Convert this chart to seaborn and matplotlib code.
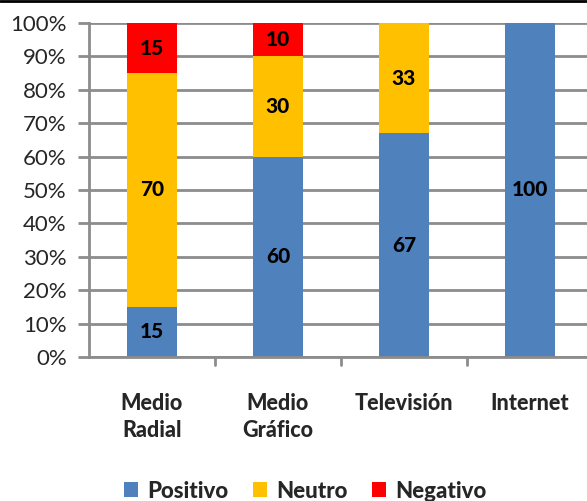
import matplotlib
matplotlib.use("Agg")
import matplotlib.pyplot as plt
import seaborn as sns
import pandas as pd
import numpy as np
from matplotlib.patches import Patch
from matplotlib.lines import Line2D

categories = ["Medio\nRadial", "Medio\nGráfico", "Televisión", "Internet"]
positivo = [15, 60, 67, 100]
neutro = [70, 30, 33, 0]
negativo = [15, 10, 0, 0]
series_names = ["Positivo", "Neutro", "Negativo"]
colors = ["#4F81BD", "#FFC000", "#FF0000"]

sns.set_theme(style="white")
plt.rcParams["font.family"] = ["Lato", "DejaVu Sans"]

fig = plt.figure(figsize=(5.87, 5.01), dpi=100)
ax = fig.add_axes([89/587, 1-357/501, 504/587, 334/501])

df = pd.DataFrame({"cat": categories, "Positivo": positivo, "Neutro": neutro, "Negativo": negativo})
bottom = np.zeros(len(categories))
for name, col in zip(series_names, colors):
    vals = np.array(df[name], dtype=float)
    sns.barplot(x=df["cat"], y=vals/100.0, bottom=bottom/100.0, color=col, width=0.4,
                ax=ax, saturation=1, edgecolor="none", linewidth=0, zorder=3)
    for i, v in enumerate(vals):
        if v > 0:
            ax.text(i, (bottom[i] + v/2)/100.0, f"{int(v)}", ha="center", va="center",
                    fontsize=15, fontweight=900, color="black", zorder=5)
    bottom += vals

ax.set_xlim(-0.5, 3.5)
ax.set_ylim(0, 1)
ax.set_yticks(np.arange(0, 1.01, 0.1))
ax.set_yticklabels([f"{int(round(t*100))}%" for t in np.arange(0, 1.01, 0.1)], fontsize=16)
ax.yaxis.grid(True, color="#8C8C8C", linewidth=2, zorder=0)
ax.set_axisbelow(True)
ax.set_xlabel("")
ax.set_ylabel("")
ax.set_xticks(range(len(categories)))
ax.set_xticklabels(categories, fontsize=15.5, fontweight=900, linespacing=1.35)
ax.tick_params(axis="x", length=0, pad=26)
ax.tick_params(axis="y", length=8, width=2, color="#8C8C8C", direction="out", pad=8, left=True)
for x in [0.5, 1.5, 2.5]:
    ax.plot([x, x], [0, -0.025], color="#8C8C8C", lw=2, clip_on=False, zorder=4)
for s in ["top", "right"]:
    ax.spines[s].set_visible(False)
for s in ["left", "bottom"]:
    ax.spines[s].set_color("#8C8C8C")
    ax.spines[s].set_linewidth(2)
ax.spines["bottom"].set_zorder(4)

handles = [Patch(facecolor=c, edgecolor="none") for c in colors]
fig.legend(handles, series_names, loc="center", bbox_to_anchor=(305/587, 1-491/501), ncol=3,
           frameon=False, prop={"size": 16, "weight": 900}, handlelength=0.65, handleheight=0.65,
           handletextpad=0.4, columnspacing=1.1)

fig.add_artist(Line2D([0, 1], [1-1/501, 1-1/501], color="black", lw=2, transform=fig.transFigure))

fig.savefig("out.png", dpi=100)
